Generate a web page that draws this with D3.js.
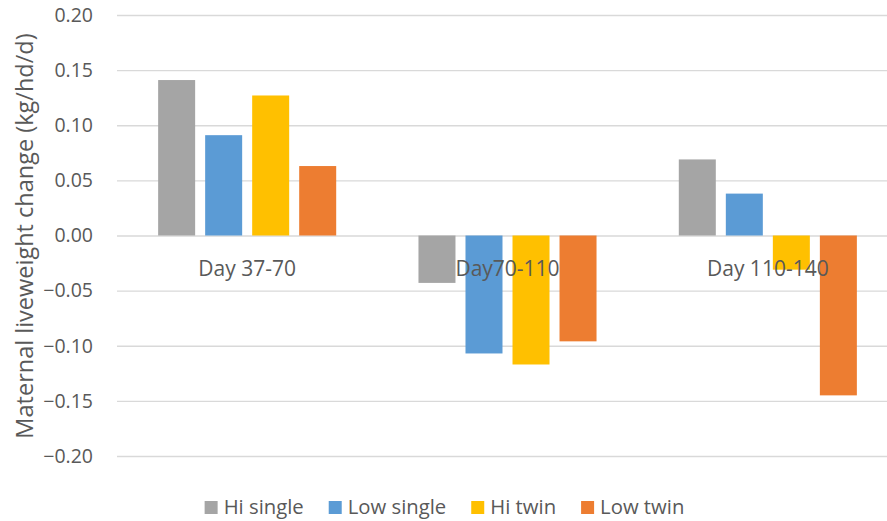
<!DOCTYPE html>
<html>
<head>
<meta charset="utf-8">
<script src="https://cdn.jsdelivr.net/npm/d3@7"></script>
<style>
  html, body { margin: 0; padding: 0; background: #fff; }
  svg { display: block; font-family: "Open Sans", "Liberation Sans", sans-serif; }
</style>
</head>
<body>
<svg id="chart" width="887" height="521"></svg>
<script>
// Periods along the x axis
const periods = ["Day 37-70", "Day70-110", "Day 110-140"];
// Treatment groups (one bar per group in each period)
const groups = ["Hi single", "Low single", "Hi twin", "Low twin"];
// Maternal liveweight change, kg/hd/d, per group across the periods
const hiSingle  = [0.141, -0.043, 0.069];
const lowSingle = [0.091, -0.107, 0.038];
const hiTwin    = [0.127, -0.117, -0.031];
const lowTwin   = [0.063, -0.096, -0.145];
// Y axis tick values
const yTicks = [-0.20, -0.15, -0.10, -0.05, 0.00, 0.05, 0.10, 0.15, 0.20];

const seriesValues = [hiSingle, lowSingle, hiTwin, lowTwin];
const colors = ["#A5A5A5", "#5B9BD5", "#FFC000", "#ED7D31"];
const textColor = "#595959";

const svg = d3.select("#chart");

const plot = { left: 117, right: 898, top: 15, bottom: 456 };

const x0 = d3.scaleBand()
  .domain(periods)
  .range([plot.left, plot.right])
  .paddingInner(0)
  .paddingOuter(0);

const x1 = d3.scaleBand()
  .domain(groups)
  .range([0, x0.bandwidth()])
  .paddingInner(0.213)
  .paddingOuter(0.875);

const y = d3.scaleLinear()
  .domain([-0.2, 0.2])
  .range([plot.bottom, plot.top]);

// Horizontal gridlines with tick labels
const yAxis = d3.axisLeft(y)
  .tickValues(yTicks)
  .tickSize(-(plot.right - plot.left))
  .tickPadding(24)
  .tickFormat(d3.format(".2f"));

const gy = svg.append("g")
  .attr("transform", `translate(${plot.left},0)`)
  .call(yAxis);
gy.select(".domain").remove();
gy.selectAll(".tick line")
  .attr("stroke", "#D9D9D9")
  .attr("stroke-width", 1.3);
gy.selectAll(".tick text")
  .attr("fill", textColor)
  .attr("font-size", 19.5)
  .attr("font-family", "'Open Sans', sans-serif");

// Bars
const rows = [];
groups.forEach((g, gi) => {
  periods.forEach((p, pi) => {
    rows.push({ group: g, period: p, value: seriesValues[gi][pi], color: colors[gi] });
  });
});

svg.append("g")
  .selectAll("rect")
  .data(rows)
  .join("rect")
  .attr("x", d => x0(d.period) + x1(d.group))
  .attr("width", x1.bandwidth())
  .attr("y", d => y(Math.max(0, d.value)))
  .attr("height", d => Math.abs(y(d.value) - y(0)))
  .attr("fill", d => d.color);

// Period labels just below the zero line
const xAxis = d3.axisBottom(x0).tickSize(0).tickPadding(22);
const gx = svg.append("g")
  .attr("transform", `translate(0,${y(0)})`)
  .call(xAxis);
gx.select(".domain").remove();
gx.selectAll(".tick text")
  .attr("fill", textColor)
  .attr("font-size", 21)
  .attr("font-family", "'Open Sans', sans-serif")
  .attr("dy", "0.35em")
  .attr("y", 33);

// Y axis title
svg.append("text")
  .attr("transform", `translate(33,${(33 + 439) / 2}) rotate(-90)`)
  .attr("text-anchor", "middle")
  .attr("fill", textColor)
  .attr("font-size", 23.5)
  .text("Maternal liveweight change (kg/hd/d)");

// Legend
const legend = svg.append("g").attr("transform", "translate(0,514)");
const items = legend.selectAll("g")
  .data(groups)
  .join("g");
items.append("rect")
  .attr("y", -13)
  .attr("width", 13)
  .attr("height", 13)
  .attr("fill", (d, i) => colors[i]);
items.append("text")
  .attr("x", 19)
  .attr("fill", textColor)
  .attr("font-size", 20.3)
  .text(d => d);

let cursor = 0;
const offsets = [];
items.each(function () {
  offsets.push(cursor);
  const w = 19 + d3.select(this).select("text").node().getComputedTextLength();
  cursor += w + 25;
});
const totalWidth = cursor - 25;
const startX = 444.5 - totalWidth / 2;
items.attr("transform", (d, i) => `translate(${startX + offsets[i]},0)`);
</script>
</body>
</html>
